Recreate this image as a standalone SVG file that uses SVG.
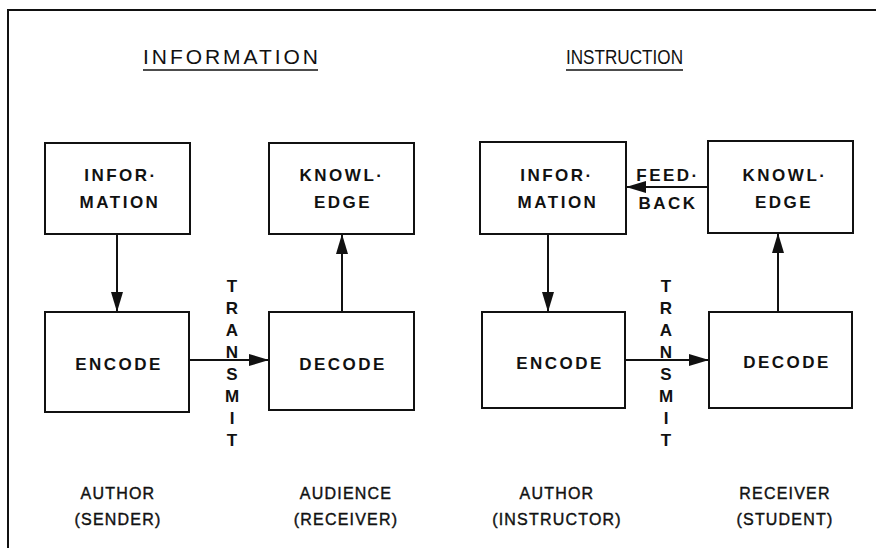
<svg xmlns="http://www.w3.org/2000/svg" width="876" height="548" viewBox="0 0 876 548">
  <style>
    .frame { fill: none; stroke: #111; stroke-width: 2; }
    .box { fill: #fff; stroke: #111; stroke-width: 2; }
    .wire { fill: none; stroke: #111; stroke-width: 2; }
    text { font-family: "Liberation Sans", Arial, sans-serif; fill: #111; }
    .head { font-size: 21px; }
    .lbl { font-size: 17px; font-weight: bold; letter-spacing: 2.5px; text-anchor: middle; }
    .vert { font-size: 17px; font-weight: bold; text-anchor: middle; }
    .who { font-size: 16px; letter-spacing: 1.2px; text-anchor: middle; stroke: #111; stroke-width: 0.4px; }
  </style>
  <defs>
    <marker id="arrow" markerUnits="userSpaceOnUse" markerWidth="20" markerHeight="12" refX="20" refY="6" orient="auto">
      <path d="M0,0 L20,6 L0,12 z" fill="#111"/>
    </marker>
  </defs>

  <rect width="876" height="548" fill="#fff"/>

  <!-- outer frame: top rule and left rule only -->
  <path class="frame" d="M8,548 V10 H876"/>

  <!-- section headings -->
  <g id="heading-information">
    <text class="head" x="143" y="64" textLength="175" lengthAdjust="spacing">INFORMATION</text>
    <line x1="143" y1="70" x2="318" y2="70" stroke="#111" stroke-width="1.5"/>
  </g>
  <g id="heading-instruction">
    <text class="head" x="566" y="64" textLength="117" lengthAdjust="spacingAndGlyphs">INSTRUCTION</text>
    <line x1="566" y1="70" x2="683" y2="70" stroke="#111" stroke-width="1.5"/>
  </g>

  <!-- connectors -->
  <g id="connectors">
    <!-- information model -->
    <line class="wire" x1="117" y1="234" x2="117" y2="312" marker-end="url(#arrow)"/>
    <line class="wire" x1="189" y1="360" x2="269" y2="360" marker-end="url(#arrow)"/>
    <line class="wire" x1="342" y1="312" x2="342" y2="234" marker-end="url(#arrow)"/>
    <!-- instruction model -->
    <line class="wire" x1="708" y1="187" x2="626" y2="187" marker-end="url(#arrow)"/>
    <line class="wire" x1="548" y1="234" x2="548" y2="312" marker-end="url(#arrow)"/>
    <line class="wire" x1="625" y1="360" x2="709" y2="360" marker-end="url(#arrow)"/>
    <line class="wire" x1="778" y1="312" x2="778" y2="233" marker-end="url(#arrow)"/>
  </g>

  <!-- information model nodes -->
  <g id="info-information">
    <rect class="box" x="45" y="143" width="145" height="91"/>
    <text class="lbl" x="121" y="181">INFOR·</text>
    <text class="lbl" x="120" y="208">MATION</text>
  </g>
  <g id="info-knowledge">
    <rect class="box" x="269" y="143" width="145" height="91"/>
    <text class="lbl" x="342" y="181">KNOWL·</text>
    <text class="lbl" x="343" y="208">EDGE</text>
  </g>
  <g id="info-encode">
    <rect class="box" x="45" y="312" width="144" height="100"/>
    <text class="lbl" x="119" y="370">ENCODE</text>
  </g>
  <g id="info-decode">
    <rect class="box" x="269" y="312" width="145" height="98"/>
    <text class="lbl" x="343" y="370">DECODE</text>
  </g>
  <g id="info-transmit">
    <text class="vert" x="232" y="292">T</text>
    <text class="vert" x="232" y="314">R</text>
    <text class="vert" x="232" y="336">A</text>
    <text class="vert" x="232" y="358">N</text>
    <text class="vert" x="232" y="380">S</text>
    <text class="vert" x="232" y="402">M</text>
    <text class="vert" x="232" y="424">I</text>
    <text class="vert" x="232" y="446">T</text>
  </g>
  <g id="info-roles">
    <text class="who" x="118" y="499">AUTHOR</text>
    <text class="who" x="118" y="525">(SENDER)</text>
    <text class="who" x="346" y="499">AUDIENCE</text>
    <text class="who" x="346" y="525">(RECEIVER)</text>
  </g>

  <!-- instruction model nodes -->
  <g id="instr-information">
    <rect class="box" x="480" y="142" width="146" height="92"/>
    <text class="lbl" x="557" y="181">INFOR·</text>
    <text class="lbl" x="558" y="208">MATION</text>
  </g>
  <g id="instr-knowledge">
    <rect class="box" x="708" y="141" width="145" height="92"/>
    <text class="lbl" x="785" y="181">KNOWL·</text>
    <text class="lbl" x="784" y="208">EDGE</text>
  </g>
  <g id="instr-feedback">
    <text class="lbl" x="668" y="181">FEED·</text>
    <text class="lbl" x="668" y="209">BACK</text>
  </g>
  <g id="instr-encode">
    <rect class="box" x="482" y="312" width="143" height="96"/>
    <text class="lbl" x="560" y="369">ENCODE</text>
  </g>
  <g id="instr-decode">
    <rect class="box" x="709" y="312" width="143" height="96"/>
    <text class="lbl" x="787" y="368">DECODE</text>
  </g>
  <g id="instr-transmit">
    <text class="vert" x="666" y="292">T</text>
    <text class="vert" x="666" y="314">R</text>
    <text class="vert" x="666" y="336">A</text>
    <text class="vert" x="666" y="358">N</text>
    <text class="vert" x="666" y="380">S</text>
    <text class="vert" x="666" y="402">M</text>
    <text class="vert" x="666" y="424">I</text>
    <text class="vert" x="666" y="446">T</text>
  </g>
  <g id="instr-roles">
    <text class="who" x="557" y="499">AUTHOR</text>
    <text class="who" x="557" y="525">(INSTRUCTOR)</text>
    <text class="who" x="785" y="499">RECEIVER</text>
    <text class="who" x="785" y="525">(STUDENT)</text>
  </g>
</svg>
